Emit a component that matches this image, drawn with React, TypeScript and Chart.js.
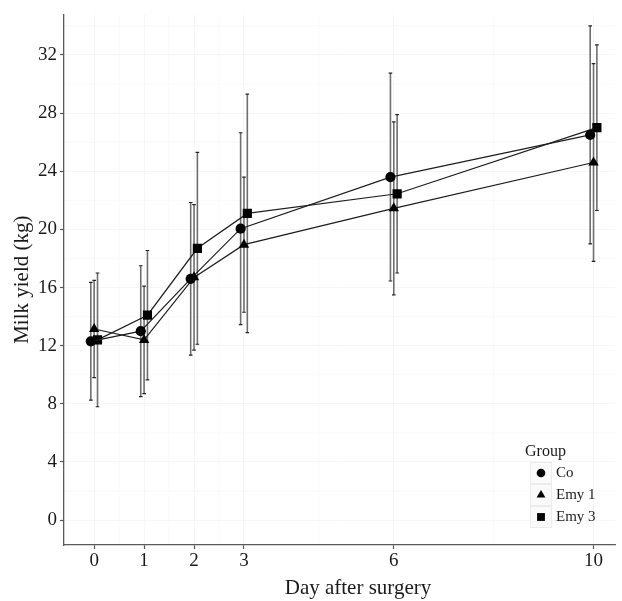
import React, { useEffect, useRef } from "react";
import { Chart, registerables } from "chart.js";

Chart.register(...registerables);

// ---- data ----
const days = [0, 1, 2, 3, 6, 10];
const coMean = [12.3, 13.0, 16.6, 20.05, 23.6, 26.5];
const coSD = [4.05, 4.5, 5.25, 6.6, 7.15, 7.5];
const emy1Mean = [13.15, 12.4, 16.7, 18.95, 21.45, 24.6];
const emy1SD = [3.35, 3.7, 5.0, 4.65, 5.95, 6.8];
const emy3Mean = [12.4, 14.1, 18.7, 21.1, 22.45, 27.0];
const emy3SD = [4.6, 4.45, 6.6, 8.2, 5.45, 5.7];
const groupLabels = ["Co", "Emy 1", "Emy 3"];
const yTicks = [0, 4, 8, 12, 16, 20, 24, 28, 32];
const xTicks = days;
const legendTitle = "Group";
const xTitle = "Day after surgery";
const yTitle = "Milk yield (kg)";

const FONT = "'Liberation Serif', 'DejaVu Serif', serif";
const DODGE = 0.067;

const groups = [
  { label: groupLabels[0], mean: coMean, sd: coSD, style: "circle", radius: 5.1, offset: -DODGE },
  { label: groupLabels[1], mean: emy1Mean, sd: emy1SD, style: "triangle", radius: 6.0, offset: 0 },
  { label: groupLabels[2], mean: emy3Mean, sd: emy3SD, style: "rect", radius: 6.5, offset: DODGE },
];

function drawMarker(ctx: CanvasRenderingContext2D, style: string, x: number, y: number, r: number) {
  ctx.beginPath();
  if (style === "circle") {
    ctx.arc(x, y, r, 0, Math.PI * 2);
  } else if (style === "triangle") {
    const a = -Math.PI / 2;
    for (let k = 0; k < 3; k++) {
      const ang = a + (k * 2 * Math.PI) / 3;
      const px = x + Math.cos(ang) * r;
      const py = y + Math.sin(ang) * r;
      if (k === 0) ctx.moveTo(px, py);
      else ctx.lineTo(px, py);
    }
    ctx.closePath();
  } else {
    const s = r * Math.SQRT1_2;
    ctx.rect(x - s, y - s, 2 * s, 2 * s);
  }
  ctx.fill();
}

const minorGridPlugin = {
  id: "minorGrid",
  beforeDatasetsDraw(chart: any) {
    const { ctx, chartArea, scales } = chart;
    const xs = scales.x;
    const ys = scales.y;
    ctx.save();
    ctx.strokeStyle = "rgba(0,0,0,0.035)";
    ctx.lineWidth = 0.8;
    for (let i = 0; i < xTicks.length - 1; i++) {
      const v = (xTicks[i] + xTicks[i + 1]) / 2;
      const px = xs.getPixelForValue(v);
      ctx.beginPath();
      ctx.moveTo(px, chartArea.top);
      ctx.lineTo(px, chartArea.bottom);
      ctx.stroke();
    }
    const step = yTicks[1] - yTicks[0];
    for (let i = 0; i < yTicks.length; i++) {
      const v = yTicks[i] + step / 2;
      const py = ys.getPixelForValue(v);
      if (py < chartArea.top) continue;
      ctx.beginPath();
      ctx.moveTo(chartArea.left, py);
      ctx.lineTo(chartArea.right, py);
      ctx.stroke();
    }
    ctx.restore();
  },
};

const errorBarPlugin = {
  id: "errorBars",
  beforeDatasetsDraw(chart: any) {
    const { ctx, scales } = chart;
    const xs = scales.x;
    const ys = scales.y;
    ctx.save();
    groups.forEach((g) => {
      g.mean.forEach((m, j) => {
        const px = xs.getPixelForValue(days[j] + g.offset);
        const top = ys.getPixelForValue(m + g.sd[j]);
        const bot = ys.getPixelForValue(m - g.sd[j]);
        ctx.strokeStyle = "#6e6e6e";
        ctx.lineWidth = 1.6;
        ctx.beginPath();
        ctx.moveTo(px, top);
        ctx.lineTo(px, bot);
        ctx.stroke();
        ctx.strokeStyle = "#222";
        ctx.lineWidth = 1.2;
        ctx.beginPath();
        ctx.moveTo(px - 1.8, top);
        ctx.lineTo(px + 1.8, top);
        ctx.moveTo(px - 1.8, bot);
        ctx.lineTo(px + 1.8, bot);
        ctx.stroke();
      });
    });
    ctx.restore();
  },
};

const titlesLegendPlugin = {
  id: "titlesLegend",
  afterDraw(chart: any) {
    const { ctx, chartArea } = chart;
    ctx.save();
    ctx.fillStyle = "#1a1a1a";
    ctx.font = `21px ${FONT}`;
    ctx.textAlign = "center";
    ctx.textBaseline = "middle";
    ctx.fillText(xTitle, 358, 588);
    ctx.save();
    ctx.translate(22, (chartArea.top + chartArea.bottom) / 2);
    ctx.rotate(-Math.PI / 2);
    ctx.fillText(yTitle, 0, 0);
    ctx.restore();

    // legend
    const boxX = 530;
    const boxTop = 462;
    const boxSize = 22;
    ctx.textAlign = "left";
    ctx.font = `16px ${FONT}`;
    ctx.fillText(legendTitle, 525, 452);
    ctx.font = `15px ${FONT}`;
    groups.forEach((g, i) => {
      const y0 = boxTop + i * boxSize;
      ctx.fillStyle = "#fafafa";
      ctx.fillRect(boxX, y0, boxSize, boxSize);
      ctx.strokeStyle = "#ececec";
      ctx.lineWidth = 1;
      ctx.strokeRect(boxX + 0.5, y0 + 0.5, boxSize - 1, boxSize - 1);
      ctx.fillStyle = "#000";
      drawMarker(ctx, g.style, boxX + boxSize / 2, y0 + boxSize / 2, g.radius * 0.85);
      ctx.fillStyle = "#1a1a1a";
      ctx.fillText(g.label, 556, y0 + boxSize / 2 + 0.5);
    });
    ctx.restore();
  },
};

export default function App() {
  const canvasRef = useRef<HTMLCanvasElement | null>(null);

  useEffect(() => {
    document.body.style.margin = "0";
    const canvas = canvasRef.current;
    if (!canvas) return;
    const chart = new Chart(canvas, {
      type: "scatter",
      data: {
        datasets: groups.map((g) => ({
          label: g.label,
          data: g.mean.map((m, j) => ({ x: days[j] + g.offset, y: m })),
          showLine: true,
          borderColor: "#1e1e1e",
          borderWidth: 1.2,
          backgroundColor: "#000",
          pointBackgroundColor: "#000",
          pointBorderColor: "#000",
          pointBorderWidth: 0,
          pointStyle: g.style as any,
          pointRadius: g.radius,
          tension: 0,
        })),
      },
      options: {
        animation: false,
        responsive: true,
        maintainAspectRatio: false,
        layout: { padding: { top: 12, right: 4, left: 0, bottom: 0 } },
        plugins: {
          legend: { display: false },
          tooltip: { enabled: false },
        },
        scales: {
          x: {
            type: "linear",
            min: -0.604,
            max: 10.44,
            afterBuildTicks: (scale: any) => {
              scale.ticks = xTicks.map((v) => ({ value: v }));
            },
            afterFit: (scale: any) => {
              scale.height = 56;
            },
            grid: {
              color: "rgba(0,0,0,0.045)",
              lineWidth: 0.9,
              tickLength: 4,
              tickColor: "#555",
              tickWidth: 1.2,
            },
            border: { display: true, color: "#5a5a5a", width: 1.3 },
            ticks: {
              font: { family: FONT, size: 19 },
              color: "#1a1a1a",
              padding: 1,
              maxRotation: 0,
              autoSkip: false,
            },
          },
          y: {
            type: "linear",
            min: -1.71,
            max: 34.79,
            afterBuildTicks: (scale: any) => {
              scale.ticks = yTicks.map((v) => ({ value: v }));
            },
            afterFit: (scale: any) => {
              scale.width = 64;
            },
            grid: {
              color: "rgba(0,0,0,0.045)",
              lineWidth: 0.9,
              tickLength: 4,
              tickColor: "#555",
              tickWidth: 1.2,
            },
            border: { display: true, color: "#5a5a5a", width: 1.3 },
            ticks: {
              font: { family: FONT, size: 19 },
              color: "#1a1a1a",
              padding: 3,
              autoSkip: false,
            },
          },
        },
      },
      plugins: [minorGridPlugin, errorBarPlugin, titlesLegendPlugin],
    });
    return () => chart.destroy();
  }, []);

  return (
    <div style={{ width: 622, height: 601, position: "relative" }}>
      <canvas ref={canvasRef} />
    </div>
  );
}
